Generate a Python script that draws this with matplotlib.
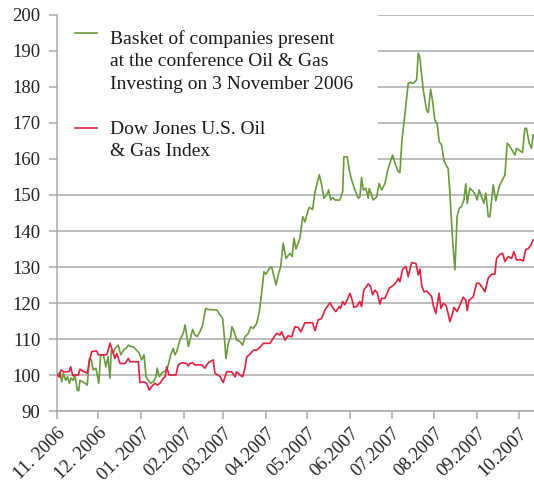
import numpy as np
import pandas as pd
import matplotlib
matplotlib.use("Agg")
import matplotlib.pyplot as plt
import matplotlib.dates as mdates
from matplotlib.lines import Line2D
from matplotlib.patches import Rectangle

# Data (days counted from 1 Nov 2006, index = 100 at start)
start = pd.Timestamp("2006-11-01")

basket_days = [0.2, 2.2, 3.4, 4.6, 6.3, 7.7, 8.9, 10.1, 11.8, 13.0, 14.7, 15.7, 16.6, 18.6, 20.2,
               21.9, 23.4, 24.8, 26.2, 28.2, 30.2, 31.6, 33.5, 35.4, 36.9, 38.3, 39.3, 40.7, 41.9,
               44.3, 46.1, 48.4, 49.9, 51.6, 53.5, 55.2, 57.6, 59.5, 61.2, 62.9, 64.4, 66.0, 67.8,
               69.6, 71.6, 72.5, 74.0, 75.7, 77.6, 79.3, 80.5, 82.2, 84.1, 85.3, 86.6, 88.9, 91.3,
               92.6, 93.8, 95.0, 96.2, 98.1, 99.8, 101.4, 103.4, 105.4, 107.5, 109.4, 113.0, 115.5,
               117.9, 119.8, 120.8, 122.2, 123.9, 125.6, 126.5, 128.2, 129.9, 132.3, 134.3, 135.9,
               138.3, 140.1, 141.9, 144.4, 146.3, 148.0, 149.7, 151.1, 153.5, 155.2, 158.4, 160.0,
               161.8, 163.6, 165.6, 168.5, 170.1, 171.4, 172.8, 175.7, 177.7, 179.3, 180.6, 182.4,
               184.9, 186.6, 189.7, 191.4, 193.1, 195.0, 196.5, 197.9, 199.4, 201.0, 204.6, 206.6,
               207.5, 209.9, 211.4, 213.1, 215.5, 217.9, 219.1, 220.3, 221.5, 223.4, 225.1, 225.8,
               227.5, 228.7, 231.2, 233.0, 234.8, 237.2, 239.5, 242.7, 244.4, 246.8, 248.0, 249.5,
               251.6, 254.0, 255.8, 257.7, 260.1, 261.3, 262.5, 264.9, 267.3, 268.5, 270.2, 271.7,
               273.3, 275.0, 276.4, 278.2, 279.8, 281.8, 282.9, 284.2, 286.1, 287.8, 289.4, 290.9,
               292.6, 294.3, 295.7, 296.7, 298.6, 301.0, 302.7, 303.9, 305.3, 307.1, 308.7, 310.2,
               311.9, 313.1, 315.5, 317.4, 319.8, 321.5, 324.0, 325.6, 327.6, 329.5, 331.2, 332.4,
               334.8, 336.7, 338.4, 339.6, 341.5, 343.2, 344.4]
basket = [100, 100.8, 98.1, 100.5, 98.5, 99.5, 97.7, 99.2, 98.5, 100, 95.8, 95.6, 98.5, 98.1, 97.7,
          97.2, 104.6, 104.2, 101.4, 101.9, 97.7, 105.6, 105.6, 102.3, 105.1, 99.1, 106.9, 106, 107.4,
          108.3, 105.6, 107, 107.4, 108.3, 107.9, 107.8, 106.9, 106, 104.2, 105.6, 99.5, 98.5, 97.7,
          98.1, 99.5, 101.9, 99.5, 100.5, 101, 101.4, 102.8, 105.6, 107.4, 105.6, 106.5, 109.7, 111.6,
          113.9, 111.1, 107.9, 109.7, 112.7, 111.1, 110.7, 112, 113.9, 118.5, 118.2, 118.1, 118.1,
          116.7, 115.7, 111.6, 104.6, 108.8, 110.6, 113.4, 112, 109.7, 109.3, 108.3, 110.6,
          111.5, 113.4, 112.9, 114.3, 117.5, 122.7, 128.7, 128, 129.6, 130.1, 125, 127.8,
          130.1, 136.6, 132.4, 133.8, 132.9, 138, 135, 138, 144, 142.5, 144.4, 146.6,
          146, 150.9, 155.6, 152.8, 149.1, 150, 151.4, 148.6, 149.3, 148.6, 148.6, 150.9,
          160.6, 160.6, 156.9, 154.2, 151.4, 149.1, 149.5, 154.9, 151.4, 151.9, 149.1, 151.8,
          150, 148.6, 149.5, 153.2, 151.4, 153.2, 157.4, 161.1, 158.9, 156.5, 156.2, 165.3,
          172.2, 181, 181.3, 181, 182, 189.4, 188, 179.2, 173.6, 172.9, 179.4, 176,
          170.8, 169.8, 164.8, 163.9, 159.7, 158, 157.4, 150.5, 137.5, 129.2, 144, 146.3,
          146.8, 148.6, 153.1, 147.7, 151.9, 151, 150, 148.6, 151.4, 149.5, 147.7, 150.5,
          144, 144, 152.8, 148.4, 152.3, 153.7, 155.6, 164.4, 163.5, 162.2, 161.1, 163,
          162.3, 161.8, 168.5, 168.5, 164.4, 163, 166.7]

dj_days = [0.2, 1.7, 2.9, 4.6, 7.0, 8.9, 9.9, 11.4, 13.0, 15.4, 16.6, 19.0, 21.9, 23.4, 25.1, 28.7,
           29.9, 32.3, 35.4, 36.4, 38.3, 39.6, 41.9, 43.2, 45.6, 49.2, 51.6, 52.8, 57.6, 58.8, 60.0,
           62.9, 64.9, 66.7, 68.5, 70.9, 72.5, 74.5, 76.9, 78.3, 79.3, 81.0, 84.1, 86.0, 87.7, 90.2,
           93.8, 95.0, 96.2, 98.1, 99.8, 102.2, 104.6, 107.0, 109.4, 113.0, 114.2, 117.9, 120.2,
           122.7, 126.3, 128.7, 129.9, 132.3, 134.3, 135.9, 137.2, 139.6, 142.0, 144.4, 147.3,
           149.2, 151.6, 154.0, 156.4, 158.9, 161.2, 162.5, 164.9, 167.2, 169.7, 172.1, 174.5,
           176.4, 179.3, 182.9, 184.9, 186.6, 188.9, 191.4, 193.8, 196.2, 197.4, 199.8, 201.7,
           204.1, 205.1, 206.6, 208.2, 209.9, 211.9, 213.1, 214.8, 216.7, 219.1, 220.3, 221.9,
           225.1, 226.8, 228.3, 229.9, 231.6, 233.5, 234.8, 237.2, 240.3, 243.2, 245.6, 246.8,
           248.0, 250.0, 252.4, 254.0, 256.5, 259.6, 261.3, 262.5, 263.7, 265.4, 267.3, 269.2,
           271.0, 272.1, 274.0, 276.4, 277.7, 279.3, 281.3, 282.9, 284.2, 286.1, 287.1, 289.4,
           291.4, 293.8, 295.7, 296.7, 298.1, 301.0, 303.5, 305.3, 307.1, 309.5, 311.9, 314.3,
           316.7, 317.9, 320.3, 322.3, 324.0, 326.4, 328.8, 330.5, 332.4, 334.8, 337.2, 339.1,
           340.8, 342.5, 344.4]
dj = [100, 99.4, 101.4, 100.9, 100.9, 101, 102.3, 99.8, 100, 100, 101.6, 101, 100.5, 103.7, 106.5, 106.7,
      105.6, 105.6, 105.6, 106, 108.8, 107.4, 104.6, 106, 103.2, 103.2, 104.6, 103.7, 103.7, 103.7, 97.9,
      98.1, 97.7, 95.8, 96.8, 97.7, 97.2, 97.7, 99.1, 99.5, 102.3, 100, 100, 100, 102.8, 103.4,
      103.2, 102.5, 103.2, 103.4, 102.8, 102.8, 102.8, 101.9, 103.4, 104.2, 100.5, 99.6, 97.9,
      100.9, 100.9, 99.5, 100.9, 100, 99.5, 101.9, 105, 105.8, 106.9, 106.9, 107.9,
      108.8, 108.8, 108.8, 110.2, 111.6, 111.1, 112, 109.7, 110.9, 110.6, 113.4, 113.2,
      112, 114.5, 114.5, 114.5, 112.3, 115.3, 115.7, 118.1, 119.4, 120.1, 118.5, 117.6,
      119, 118.5, 120.4, 119.5, 120.9, 122.7, 121.3, 118.8, 119, 120.4, 119, 123.6,
      125.3, 124.6, 122.3, 123.6, 122.9, 119.7, 121.3, 121.3, 124.1, 124.9, 125.9, 126.9,
      125.9, 129.4, 130.1, 127.3, 131.2, 131, 127.8, 129.4, 125, 123.1, 123.3, 122.6,
      121.8, 119.4, 117.1, 122.7, 118.5, 119.9, 119.4, 117.1, 114.8, 117.1, 118.8, 117.6,
      119.4, 121.6, 120.8, 117.9, 120.8, 121.7, 125.5, 125.5, 124.6, 123.1, 126.9, 128,
      128, 132.4, 133.5, 133.8, 131.5, 132.9, 132.4, 134.3, 131.9, 132.1, 131.7, 134.9,
      135.1, 135.9, 137.5]

x_labels = ["11. 2006", "12. 2006", "01. 2007", "02.2007", "03.2007", "04.2007",
            "05.2007", "06.2007", "07.2007", "08.2007", "09.2007", "10.2007"]
y_ticks = [90, 100, 110, 120, 130, 140, 150, 160, 170, 180, 190, 200]

label_basket = "Basket of companies present\nat the conference Oil & Gas\nInvesting on 3 November 2006"
label_dj = "Dow Jones U.S. Oil\n& Gas Index"

green = "#6b9a3c"
red = "#e0203f"
grey = "#ababab"

plt.rcParams["font.family"] = ["Liberation Serif", "DejaVu Serif"]

fig = plt.figure(figsize=(5.34, 4.86), dpi=100)
ax = fig.add_axes([57 / 534, 75 / 486, 477 / 534, 396 / 486])

d_basket = start + pd.to_timedelta(basket_days, unit="D")
d_dj = start + pd.to_timedelta(dj_days, unit="D")

ax.plot(d_basket, basket, color=green, lw=1.2, zorder=3)
ax.plot(d_dj, dj, color=red, lw=1.2, zorder=3)

ax.set_ylim(90, 200)
ax.set_yticks(y_ticks)
ax.set_xlim(start, start + pd.Timedelta(days=345))
month_ticks = pd.date_range("2006-11-01", periods=len(x_labels), freq="MS")
ax.set_xticks(month_ticks)
ax.set_xticklabels(x_labels, rotation=45, ha="right", rotation_mode="anchor")

ax.grid(axis="y", color=grey, lw=1.1)
ax.set_axisbelow(True)
for s in ["top", "right"]:
    ax.spines[s].set_visible(False)
for s in ["left", "bottom"]:
    ax.spines[s].set_color(grey)
    ax.spines[s].set_linewidth(1.1)
ax.tick_params(axis="both", colors=grey, length=6, width=1.1, labelsize=13.5, labelcolor="#222222")
ax.tick_params(axis="y", pad=6)
ax.tick_params(axis="x", pad=4)

# legend (keys aligned with the first line of each label)
ax.add_patch(Rectangle((0.002, 0.63), 0.67, 0.37, transform=ax.transAxes,
                       facecolor="white", edgecolor="none", zorder=2))
ax.add_line(Line2D([(75 - 57) / 477, (97 - 57) / 477], [(411 - 33) / 396] * 2,
                   transform=ax.transAxes, color=green, lw=1.2, zorder=4))
ax.add_line(Line2D([(75 - 57) / 477, (97 - 57) / 477], [(411 - 128) / 396] * 2,
                   transform=ax.transAxes, color=red, lw=1.2, zorder=4))
ax.text((110 - 57) / 477, (411 - 30) / 396, label_basket, transform=ax.transAxes,
        va="top", ha="left", fontsize=14, linespacing=1.42, color="#1a1a1a", zorder=4)
ax.text((110 - 57) / 477, (411 - 121) / 396, label_dj, transform=ax.transAxes,
        va="top", ha="left", fontsize=14, linespacing=1.42, color="#1a1a1a", zorder=4)

fig.savefig("out.png", dpi=100)
